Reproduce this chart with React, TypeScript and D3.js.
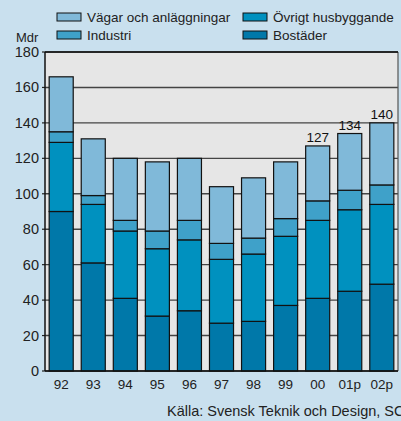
import React from "react";
import * as d3 from "d3";

const years = ["92", "93", "94", "95", "96", "97", "98", "99", "00", "01p", "02p"];
// cumulative heights (Mdr)
const bostader = [90, 61, 41, 31, 34, 27, 28, 37, 41, 45, 49];
const ovrigt = [39, 33, 38, 38, 40, 36, 38, 39, 44, 46, 45];
const industri = [6, 5, 6, 10, 11, 9, 9, 10, 11, 11, 11];
const vagar = [31, 32, 35, 39, 35, 32, 34, 32, 31, 32, 35];
const labelled = ["00", "01p", "02p"];
const yTicks = [0, 20, 40, 60, 80, 100, 120, 140, 160, 180];

const series = [
  { key: "Bostäder", values: bostader, color: "#0078a9" },
  { key: "Övrigt husbyggande", values: ovrigt, color: "#0091bf" },
  { key: "Industri", values: industri, color: "#3fa1c9" },
  { key: "Vägar och anläggningar", values: vagar, color: "#80b9d9" },
];

const W = 401;
const H = 421;
const margin = { left: 45, right: 3, top: 52, bottom: 50 };

export default function App() {
  const x = d3
    .scaleBand<string>()
    .domain(years)
    .range([margin.left, W - margin.right])
    .paddingInner(0.25)
    .paddingOuter(0.13);
  const y = d3.scaleLinear().domain([0, 180]).range([H - margin.bottom, margin.top]);

  const rows = years.map((yr, i) => {
    const r: Record<string, number | string> = { year: yr };
    series.forEach((s) => (r[s.key] = s.values[i]));
    return r;
  });
  const stacked = d3.stack<Record<string, number | string>>().keys(series.map((s) => s.key))(rows as any);
  const font = "'Liberation Sans', Arial, sans-serif";

  const legend = [
    { s: series[3], x: 57, y: 13 },
    { s: series[2], x: 57, y: 31 },
    { s: series[1], x: 243, y: 13 },
    { s: series[0], x: 243, y: 31 },
  ];

  return (
    <div style={{ position: "fixed", left: 0, top: 0 }}>
      <svg width={W} height={H} style={{ display: "block", fontFamily: font }}>
        <rect width={W} height={H} fill="#c9e0ee" />
        <rect
          x={margin.left}
          y={margin.top}
          width={W - margin.right - margin.left}
          height={y(0) - margin.top}
          fill="#e6e6e6"
        />
        {yTicks.map((t) => (
          <g key={t}>
            <line x1={margin.left} x2={W - margin.right} y1={y(t)} y2={y(t)} stroke="#444" strokeWidth={1.4} />
            <line x1={margin.left - 3} x2={margin.left} y1={y(t)} y2={y(t)} stroke="#222" strokeWidth={1.2} />
            <text x={39} y={y(t) + 5} textAnchor="end" fontSize={14.5} fill="#222">
              {t}
            </text>
          </g>
        ))}
        <line x1={margin.left} x2={margin.left} y1={margin.top} y2={y(0)} stroke="#111" strokeWidth={1.5} />
        <line x1={W - margin.right} x2={W - margin.right} y1={margin.top} y2={y(0)} stroke="#555" strokeWidth={1.2} />
        <line x1={margin.left} x2={W - margin.right} y1={margin.top} y2={margin.top} stroke="#111" strokeWidth={1.5} />
        {stacked.map((layer, li) => (
          <g key={layer.key}>
            {layer.map((d, i) => (
              <rect
                key={i}
                x={x(years[i])}
                width={x.bandwidth()}
                y={y(d[1])}
                height={y(d[0]) - y(d[1])}
                fill={series[li].color}
                stroke="#111"
                strokeWidth={1.2}
              />
            ))}
          </g>
        ))}
        <line x1={margin.left} x2={W - margin.right} y1={y(0)} y2={y(0)} stroke="#111" strokeWidth={1.5} />
        {years.map((yr, i) =>
          labelled.includes(yr) ? (
            <text
              key={yr}
              x={x(yr)! + x.bandwidth() / 2}
              y={y(stacked[3][i][1]) - 4}
              textAnchor="middle"
              fontSize={13.5}
              fill="#111"
            >
              {Math.round(stacked[3][i][1])}
            </text>
          ) : null
        )}
        {years.map((yr) => (
          <text key={yr} x={x(yr)! + x.bandwidth() / 2} y={389} textAnchor="middle" fontSize={13.5} fill="#222">
            {yr}
          </text>
        ))}
        <text x={16} y={42} fontSize={13} fill="#222">
          Mdr
        </text>
        {legend.map((l) => (
          <g key={l.s.key}>
            <rect x={l.x} y={l.y} width={24} height={8} fill={l.s.color} stroke="#111" strokeWidth={1} />
            <text x={l.x + 30} y={l.y + 9} fontSize={13.5} fill="#222">
              {l.s.key}
            </text>
          </g>
        ))}
        <text x={167} y={416} fontSize={14.5} fill="#222">
          Källa: Svensk Teknik och Design, SCB
        </text>
      </svg>
    </div>
  );
}
